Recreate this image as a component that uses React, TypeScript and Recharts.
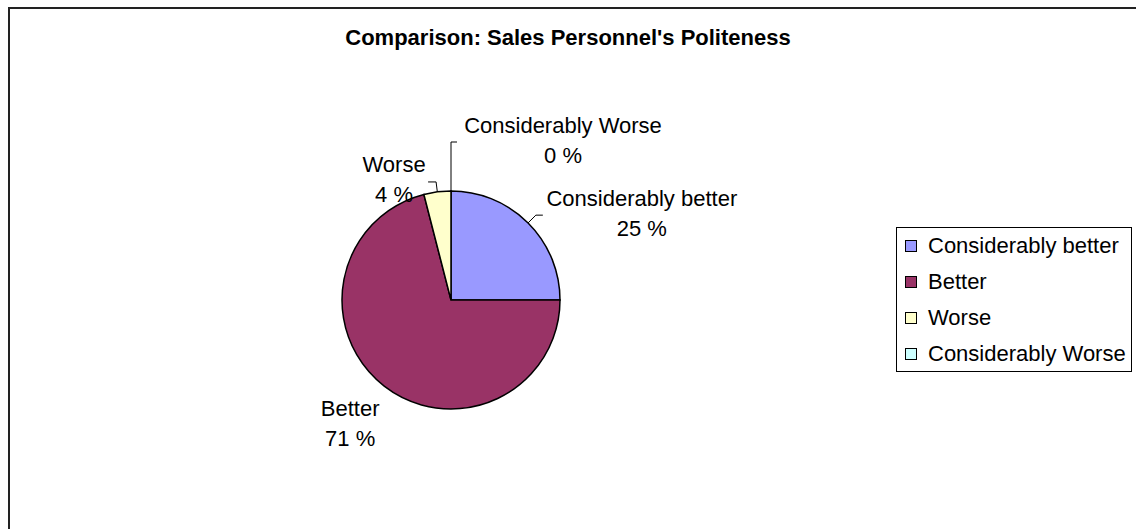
import { PieChart, Pie, Cell, Legend } from 'recharts'

// survey answers, percent of respondents
const categories = ['Considerably better', 'Better', 'Worse', 'Considerably Worse']
const shares = [25, 71, 4, 0]
const colors = ['#9999FF', '#993366', '#FFFFCC', '#CCFFFF']

const data = categories.map((name, i) => ({ name, value: shares[i] }))

const FONT = '"Liberation Sans", Arial, sans-serif'
const RAD = Math.PI / 180

// per-slice label placement: radial leader length, horizontal tick, text offset from tick end
const labelLayout = [
  { ext: 11, tick: 7, dx: 99, dy: -17, line: true },
  { ext: 0, tick: 0, dx: -34, dy: 22, line: false },
  { ext: 10, tick: -8, dx: -34, dy: -17, line: true },
  { ext: 49, tick: 6, dx: 106, dy: -17, line: true },
]

const renderLabel = (props: any) => {
  const { cx, cy, midAngle, outerRadius, index, name, value } = props
  const lay = labelLayout[index]
  const ex = cx + outerRadius * Math.cos(-midAngle * RAD)
  const ey = cy + outerRadius * Math.sin(-midAngle * RAD)
  const mx = cx + (outerRadius + lay.ext) * Math.cos(-midAngle * RAD)
  const my = cy + (outerRadius + lay.ext) * Math.sin(-midAngle * RAD)
  const tx = mx + lay.tick
  const lx = tx + lay.dx
  const ly = my + lay.dy
  return (
    <g key={`lbl-${index}`}>
      {lay.line && (
        <polyline
          points={`${ex},${ey} ${mx},${my} ${tx},${my}`}
          fill="none"
          stroke="#000"
          strokeWidth={1}
        />
      )}
      <text x={lx} y={ly} textAnchor="middle" dominantBaseline="central" fontFamily={FONT} fontSize={22} fill="#000">
        {name}
      </text>
      <text x={lx} y={ly + 30} textAnchor="middle" dominantBaseline="central" fontFamily={FONT} fontSize={22} fill="#000">
        {value} %
      </text>
    </g>
  )
}

const renderLegend = ({ payload }: any) => {
  const items = [...(payload || [])].sort(
    (a: any, b: any) => categories.indexOf(a.value) - categories.indexOf(b.value)
  )
  return (
    <div>
      {items.map((entry: any) => (
        <div
          key={entry.value}
          style={{ display: 'flex', alignItems: 'center', height: 36, paddingLeft: 8 }}
        >
          <span
            style={{
              display: 'inline-block',
              width: 10,
              height: 10,
              background: entry.color,
              border: '1px solid #000',
              marginRight: 11,
            }}
          />
          <span style={{ fontFamily: FONT, fontSize: 22, color: '#000', whiteSpace: 'nowrap' }}>{entry.value}</span>
        </div>
      ))}
    </div>
  )
}

export default function App() {
  return (
    <div style={{ position: 'absolute', left: 0, top: 0, width: 1136, height: 529, overflow: 'hidden', background: '#fff' }}>
      <div
        style={{
          position: 'absolute',
          left: 8,
          top: 7,
          width: 1300,
          height: 700,
          borderTop: '2px solid #222',
          borderLeft: '2px solid #222',
        }}
      />
      <div
        style={{
          position: 'absolute',
          left: 0,
          top: 26,
          width: 1136,
          textAlign: 'center',
          fontFamily: FONT,
          fontWeight: 'bold',
          fontSize: 22,
          lineHeight: '24px',
          color: '#000',
        }}
      >
        Comparison: Sales Personnel's Politeness
      </div>
      <div style={{ position: 'absolute', left: 0, top: 0 }}>
        <PieChart width={1136} height={529} margin={{ top: 0, right: 0, bottom: 0, left: 0 }}>
          <Pie
            data={data}
            dataKey="value"
            nameKey="name"
            cx={451}
            cy={300}
            outerRadius={109}
            startAngle={90}
            endAngle={-270}
            stroke="#000"
            strokeWidth={1.5}
            legendType="square"
            label={renderLabel}
            labelLine={false}
            isAnimationActive={false}
          >
            {data.map((d, i) => (
              <Cell key={d.name} fill={colors[i]} />
            ))}
          </Pie>
          <Legend
            layout="vertical"
            align="right"
            verticalAlign="top"
            itemSorter={null}
            content={renderLegend}
            wrapperStyle={{
              left: 896,
              top: 227,
              width: 236,
              height: 145,
              border: '1px solid #000',
              boxSizing: 'border-box',
              background: '#fff',
            }}
          />
        </PieChart>
      </div>
    </div>
  )
}
